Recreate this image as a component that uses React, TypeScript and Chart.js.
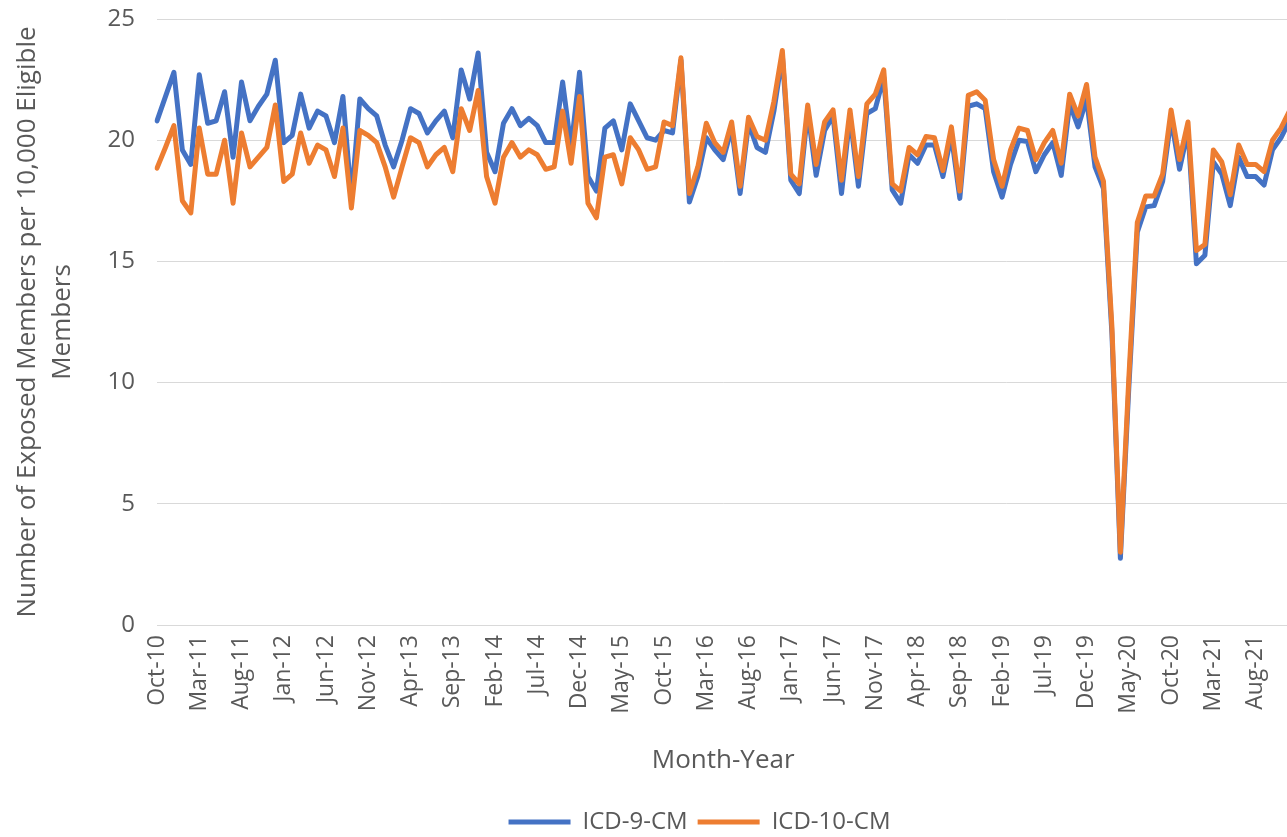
import React, { useEffect, useRef } from "react";
import { Chart, registerables } from "chart.js";

Chart.register(...registerables);

const MONTHS: string[] = [
  "Oct-10", "Nov-10", "Dec-10",
  "Jan-11", "Feb-11", "Mar-11", "Apr-11", "May-11", "Jun-11", "Jul-11", "Aug-11", "Sep-11", "Oct-11", "Nov-11", "Dec-11",
  "Jan-12", "Feb-12", "Mar-12", "Apr-12", "May-12", "Jun-12", "Jul-12", "Aug-12", "Sep-12", "Oct-12", "Nov-12", "Dec-12",
  "Jan-13", "Feb-13", "Mar-13", "Apr-13", "May-13", "Jun-13", "Jul-13", "Aug-13", "Sep-13", "Oct-13", "Nov-13", "Dec-13",
  "Jan-14", "Feb-14", "Mar-14", "Apr-14", "May-14", "Jun-14", "Jul-14", "Aug-14", "Sep-14", "Oct-14", "Nov-14", "Dec-14",
  "Jan-15", "Feb-15", "Mar-15", "Apr-15", "May-15", "Jun-15", "Jul-15", "Aug-15", "Sep-15", "Oct-15", "Nov-15", "Dec-15",
  "Jan-16", "Feb-16", "Mar-16", "Apr-16", "May-16", "Jun-16", "Jul-16", "Aug-16", "Sep-16", "Oct-16", "Nov-16", "Dec-16",
  "Jan-17", "Feb-17", "Mar-17", "Apr-17", "May-17", "Jun-17", "Jul-17", "Aug-17", "Sep-17", "Oct-17", "Nov-17", "Dec-17",
  "Jan-18", "Feb-18", "Mar-18", "Apr-18", "May-18", "Jun-18", "Jul-18", "Aug-18", "Sep-18", "Oct-18", "Nov-18", "Dec-18",
  "Jan-19", "Feb-19", "Mar-19", "Apr-19", "May-19", "Jun-19", "Jul-19", "Aug-19", "Sep-19", "Oct-19", "Nov-19", "Dec-19",
  "Jan-20", "Feb-20", "Mar-20", "Apr-20", "May-20", "Jun-20", "Jul-20", "Aug-20", "Sep-20", "Oct-20", "Nov-20", "Dec-20",
  "Jan-21", "Feb-21", "Mar-21", "Apr-21", "May-21", "Jun-21", "Jul-21", "Aug-21", "Sep-21", "Oct-21", "Nov-21", "Dec-21",
];

const ICD9_CM: number[] = [
  20.8, 21.8, 22.8,
  19.6, 19.0, 22.7, 20.7, 20.8, 22.0, 19.3, 22.4, 20.8, 21.4, 21.9, 23.3,
  19.9, 20.2, 21.9, 20.5, 21.2, 21.0, 19.9, 21.8, 17.6, 21.7, 21.3, 21.0,
  19.8, 18.9, 20.0, 21.3, 21.1, 20.3, 20.8, 21.2, 20.1, 22.9, 21.7, 23.6,
  19.5, 18.7, 20.7, 21.3, 20.6, 20.9, 20.6, 19.9, 19.9, 22.4, 19.7, 22.8,
  18.5, 17.9, 20.5, 20.8, 19.6, 21.5, 20.8, 20.1, 20.0, 20.4, 20.3, 23.3,
  17.45, 18.5, 20.1, 19.6, 19.2, 20.5, 17.8, 20.7, 19.7, 19.5, 21.2, 23.5,
  18.35, 17.8, 21.2, 18.55, 20.4, 21.0, 17.8, 21.0, 18.1, 21.1, 21.3, 22.6,
  17.95, 17.4, 19.4, 19.05, 19.8, 19.8, 18.5, 20.2, 17.6, 21.4, 21.5, 21.3,
  18.7, 17.65, 19.0, 20.0, 19.95, 18.7, 19.4, 19.9, 18.55, 21.5, 20.55, 21.7,
  18.9, 18.0, 12.0, 2.75, 9.8, 16.2, 17.25, 17.3, 18.3, 20.9, 18.8, 20.4,
  14.9, 15.25, 19.1, 18.6, 17.3, 19.3, 18.5, 18.5, 18.15, 19.6, 20.1, 20.8,
];

const ICD10_CM: number[] = [
  18.85, 19.7, 20.6,
  17.5, 17.0, 20.5, 18.6, 18.6, 20.0, 17.4, 20.3, 18.9, 19.3, 19.7, 21.45,
  18.3, 18.6, 20.3, 19.05, 19.8, 19.6, 18.5, 20.5, 17.2, 20.4, 20.2, 19.9,
  18.9, 17.65, 18.9, 20.1, 19.9, 18.9, 19.4, 19.7, 18.7, 21.3, 20.4, 22.05,
  18.5, 17.4, 19.3, 19.9, 19.3, 19.6, 19.4, 18.8, 18.9, 21.2, 19.05, 21.8,
  17.4, 16.8, 19.3, 19.4, 18.2, 20.1, 19.6, 18.8, 18.9, 20.75, 20.6, 23.4,
  17.8, 18.9, 20.7, 19.9, 19.5, 20.75, 18.1, 20.95, 20.15, 20.0, 21.6, 23.7,
  18.6, 18.2, 21.45, 19.0, 20.75, 21.25, 18.35, 21.25, 18.5, 21.5, 21.9, 22.9,
  18.2, 17.9, 19.7, 19.4, 20.15, 20.1, 18.75, 20.55, 17.9, 21.85, 22.0, 21.65,
  19.2, 18.1, 19.6, 20.5, 20.4, 19.2, 19.9, 20.4, 19.05, 21.9, 21.0, 22.3,
  19.3, 18.3, 12.3, 3.0, 10.2, 16.6, 17.7, 17.7, 18.6, 21.25, 19.2, 20.75,
  15.45, 15.7, 19.6, 19.1, 17.75, 19.8, 19.0, 19.0, 18.7, 20.0, 20.5, 21.2,
];

const SERIES_NAMES = ["ICD-9-CM", "ICD-10-CM"];
const SERIES_COLORS = ["#4472C4", "#ED7D31"];
const Y_TITLE = ["Number of Exposed Members per 10,000 Eligible", "Members"];
const X_TITLE = "Month-Year";
const LABEL_EVERY = 5;

const CANVAS_W = 1327;
const CANVAS_H = 837;
const FONT = "'Open Sans', 'DejaVu Sans', sans-serif";
const TEXT = "#595959";
const GRID = "#D9D9D9";

export default function App() {
  const ref = useRef<HTMLCanvasElement | null>(null);

  useEffect(() => {
    if (!ref.current) return;
    const legendShift = {
      id: "legendShift",
      afterLayout(chart: any) {
        const lg = chart.legend;
        if (!lg) return;
        const dx = 36;
        const dy = 7;
        lg.left += dx;
        lg.right += dx;
        lg.top += dy;
        lg.bottom += dy;
      },
    };
    const whiteBg = {
      id: "whiteBg",
      beforeDraw(chart: any) {
        const c = chart.ctx;
        c.save();
        c.fillStyle = "#ffffff";
        c.fillRect(0, 0, chart.width, chart.height);
        c.restore();
      },
    };

    const chart = new Chart(ref.current, {
      type: "line",
      data: {
        labels: MONTHS,
        datasets: [
          {
            label: SERIES_NAMES[0],
            data: ICD9_CM,
            borderColor: SERIES_COLORS[0],
            backgroundColor: SERIES_COLORS[0],
            borderWidth: 5,
            pointRadius: 0,
            tension: 0,
            borderJoinStyle: "round",
            borderCapStyle: "round",
            pointStyle: "line",
            order: 1,
          },
          {
            label: SERIES_NAMES[1],
            data: ICD10_CM,
            borderColor: SERIES_COLORS[1],
            backgroundColor: SERIES_COLORS[1],
            borderWidth: 5,
            pointRadius: 0,
            tension: 0,
            borderJoinStyle: "round",
            borderCapStyle: "round",
            pointStyle: "line",
            order: 0,
          },
        ],
      },
      options: {
        responsive: false,
        animation: false,
        events: [],
        layout: { padding: { left: 0, right: 0, top: 19, bottom: 0 } },
        plugins: {
          legend: {
            display: true,
            position: "bottom",
            labels: {
              usePointStyle: true,
              pointStyleWidth: 62,
              padding: 10,
              color: TEXT,
              font: { family: FONT, size: 24 },
              sort: (a: any, b: any) => a.datasetIndex - b.datasetIndex,
            },
          },
          tooltip: { enabled: false },
          title: { display: false },
        },
        scales: {
          x: {
            type: "category",
            offset: false,
            grid: { display: false, drawTicks: false },
            border: { display: true, color: GRID, width: 1 },
            ticks: {
              autoSkip: false,
              maxRotation: 90,
              minRotation: 90,
              padding: 10,
              color: TEXT,
              font: { family: FONT, size: 23 },
              callback: (_v: any, i: number) => (i % LABEL_EVERY === 0 ? MONTHS[i] : ""),
            },
            title: {
              display: true,
              text: X_TITLE,
              color: TEXT,
              font: { family: FONT, size: 26 },
              padding: { top: 0, bottom: 17 },
            },
            afterFit: (s: any) => {
              s.height = 168;
            },
          },
          y: {
            min: 0,
            max: 25,
            grid: {
              color: GRID,
              lineWidth: 1,
              drawTicks: true,
              tickLength: 22,
              tickColor: "rgba(0,0,0,0)",
            },
            border: { display: false },
            ticks: {
              stepSize: 5,
              padding: 0,
              color: TEXT,
              font: { family: FONT, size: 24 },
            },
            title: {
              display: true,
              text: Y_TITLE,
              color: TEXT,
              font: { family: FONT, size: 26, lineHeight: 1.35 },
              padding: { top: 10, bottom: 0 },
            },
            afterFit: (s: any) => {
              s.width = 157;
            },
          },
        },
      },
      plugins: [whiteBg, legendShift],
    });
    return () => chart.destroy();
  }, []);

  return (
    <div
      style={{
        position: "fixed",
        left: 0,
        top: 0,
        width: 1287,
        height: 837,
        overflow: "hidden",
        background: "#ffffff",
      }}
    >
      <canvas ref={ref} width={CANVAS_W} height={CANVAS_H} style={{ display: "block" }} />
    </div>
  );
}
